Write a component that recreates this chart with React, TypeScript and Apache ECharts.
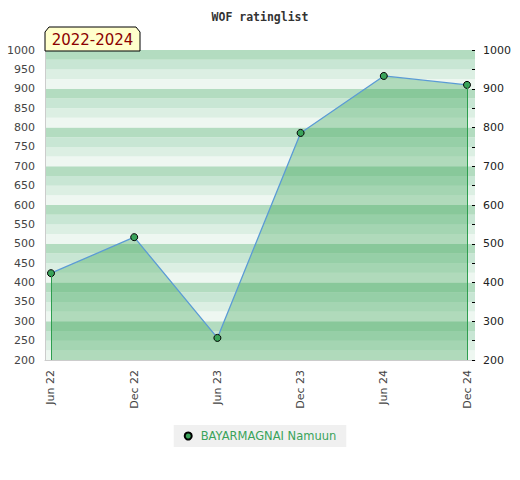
import React, { useEffect, useRef } from "react";
import * as echarts from "echarts";

const categories = ["Jun 22", "Dec 22", "Jun 23", "Dec 23", "Jun 24", "Dec 24"];
const ratings = [424, 517, 257, 786, 933, 910];
const seriesName = "BAYARMAGNAI Namuun";
const titleText = "WOF ratinglist";
const periodText = "2022-2024";
const bandColors = ["#eef7f1", "#dcefe3", "#c8e6d4", "#b3dcc0"];

export default function App() {
  const ref = useRef<HTMLDivElement>(null);
  useEffect(() => {
    if (!ref.current) return;
    const chart = echarts.init(ref.current, null, { renderer: "svg" });
    const data = ratings.map((v, i) => [i, v]);
    const last = ratings.length - 1;
    chart.setOption({
      animation: false,
      title: {
        text: titleText,
        left: "center",
        top: 6,
        textStyle: { fontFamily: "DejaVu Sans Mono", fontSize: 11.5, fontWeight: "bold", color: "#333" },
      },
      grid: { left: 45, right: 45, top: 50, bottom: 120, containLabel: false },
      legend: {
        bottom: 33,
        left: "center",
        backgroundColor: "#f0f0f0",
        padding: [5, 10, 5, 10],
        itemWidth: 7,
        itemHeight: 7,
        data: [{ name: seriesName, icon: "circle" }],
        textStyle: { color: "#3aa35a", fontFamily: "DejaVu Sans", fontSize: 11.5, padding: [0, 0, 0, 4] },
      },
      xAxis: {
        type: "value",
        min: -0.072,
        max: 5.096,
        axisLine: { show: true, onZero: false, lineStyle: { color: "#cccccc" } },
        axisTick: { show: false },
        splitLine: { show: false },
        axisLabel: {
          customValues: categories.map((_, i) => i),
          formatter: (v: number) => categories[Math.round(v)] ?? "",
          rotate: 90,
          color: "#444",
          fontFamily: "DejaVu Sans",
          fontSize: 11,
          margin: 10,
        },
      },
      yAxis: [
        {
          type: "value",
          min: 200,
          max: 1000,
          interval: 50,
          position: "left",
          axisLine: { show: true, onZero: false, lineStyle: { color: "#cccccc" } },
          axisTick: { show: false },
          splitLine: { show: false },
          axisLabel: {
            color: "#444",
            fontFamily: "DejaVu Sans",
            fontSize: 11,
            margin: 10,
            formatter: (v: number) => String(v),
          },
        },
        {
          type: "value",
          min: 200,
          max: 1000,
          interval: 50,
          position: "right",
          axisLine: { show: false, onZero: false },
          axisTick: { show: true, inside: true, length: 3, lineStyle: { color: "#000" } },
          splitLine: { show: false },
          axisLabel: {
            color: "#222",
            fontFamily: "DejaVu Sans",
            fontSize: 11,
            margin: 8,
            formatter: (v: number) => (v % 100 === 0 ? String(v) : ""),
          },
        },
        {
          type: "value",
          min: 200,
          max: 1000,
          interval: 25,
          position: "left",
          axisLine: { show: false, onZero: false },
          axisTick: { show: false },
          axisLabel: { show: false },
          splitLine: { show: false },
          splitArea: { show: true, areaStyle: { color: bandColors } },
          z: 0,
        },
      ],
      graphic: [
        {
          type: "polygon",
          shape: { points: [[45, 51], [45, 32], [49, 27], [136, 27], [140, 32], [140, 51]] },
          style: { fill: "#ffffcc", stroke: "#000", lineWidth: 1 },
          z: 10,
        },
        {
          type: "text",
          x: 92.5,
          y: 40,
          style: {
            text: periodText,
            fill: "#8b0000",
            font: "15px 'DejaVu Sans'",
            align: "center",
            verticalAlign: "middle",
          },
          z: 11,
        },
      ],
      series: [
        {
          name: seriesName,
          type: "line",
          yAxisIndex: 0,
          data,
          symbol: "circle",
          symbolSize: 7,
          itemStyle: { color: "#3aa35a", borderColor: "#000", borderWidth: 1 },
          lineStyle: { color: "#5b9bd5", width: 1.3 },
          areaStyle: { color: "rgba(40,156,71,0.45)", origin: "start" },
          markLine: {
            silent: true,
            symbol: "none",
            label: { show: false },
            lineStyle: { color: "#2e9e4f", width: 1, type: "solid" },
            data: [
              [{ coord: [0, 200] }, { coord: [0, ratings[0]] }],
              [{ coord: [last, 200] }, { coord: [last, ratings[last]] }],
            ],
          },
          z: 3,
        },
      ],
    });
    return () => chart.dispose();
  }, []);
  return <div ref={ref} style={{ position: "absolute", left: 0, top: 0, width: 520, height: 480 }} />;
}
